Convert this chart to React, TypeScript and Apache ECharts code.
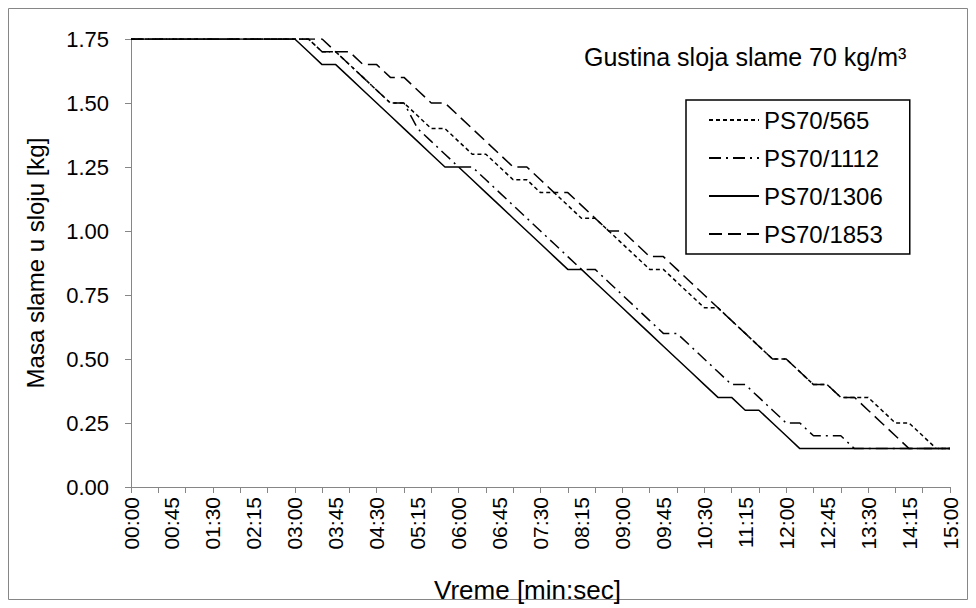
import React, { useEffect, useRef } from "react";
import * as echarts from "echarts";

const FONT = "'Liberation Sans', Arial, sans-serif";

// categories: every 15 s from 00:00 to 15:00
const timeLabels: string[] = [];
for (let s = 0; s <= 900; s += 15) {
  const m = Math.floor(s / 60);
  const sec = s % 60;
  timeLabels.push(`${String(m).padStart(2, "0")}:${String(sec).padStart(2, "0")}`);
}

const seriesNames = ["PS70/565", "PS70/1112", "PS70/1306", "PS70/1853"];

const ps565 = [
  1.75, 1.75, 1.75, 1.75, 1.75, 1.75, 1.75, 1.75, 1.75, 1.75, 1.75, 1.75, 1.75, 1.75,
  1.70, 1.70, 1.65, 1.60, 1.55, 1.50, 1.50, 1.45, 1.40, 1.40, 1.35, 1.30, 1.30, 1.25,
  1.20, 1.20, 1.15, 1.15, 1.10, 1.05, 1.05, 1.00, 0.95, 0.90, 0.85, 0.85, 0.80, 0.75,
  0.70, 0.70, 0.65, 0.60, 0.55, 0.50, 0.50, 0.45, 0.40, 0.40, 0.35, 0.35, 0.35, 0.30,
  0.25, 0.25, 0.20, 0.15, 0.15,
];

const ps1112 = [
  1.75, 1.75, 1.75, 1.75, 1.75, 1.75, 1.75, 1.75, 1.75, 1.75, 1.75, 1.75, 1.75, 1.75,
  1.70, 1.70, 1.65, 1.60, 1.55, 1.50, 1.50, 1.40, 1.35, 1.30, 1.25, 1.25, 1.20, 1.15,
  1.10, 1.05, 1.00, 0.95, 0.90, 0.85, 0.85, 0.80, 0.75, 0.70, 0.65, 0.60, 0.60, 0.55,
  0.50, 0.45, 0.40, 0.40, 0.35, 0.30, 0.25, 0.25, 0.20, 0.20, 0.20, 0.15, 0.15, 0.15,
  0.15, 0.15, 0.15, 0.15, 0.15,
];

const ps1306 = [
  1.75, 1.75, 1.75, 1.75, 1.75, 1.75, 1.75, 1.75, 1.75, 1.75, 1.75, 1.75, 1.75,
  1.70, 1.65, 1.65, 1.60, 1.55, 1.50, 1.45, 1.40, 1.35, 1.30, 1.25, 1.25, 1.20, 1.15,
  1.10, 1.05, 1.00, 0.95, 0.90, 0.85, 0.85, 0.80, 0.75, 0.70, 0.65, 0.60, 0.55, 0.50,
  0.45, 0.40, 0.35, 0.35, 0.30, 0.30, 0.25, 0.20, 0.15, 0.15, 0.15, 0.15, 0.15, 0.15,
  0.15, 0.15, 0.15, 0.15, 0.15, 0.15,
];

const ps1853 = [
  1.75, 1.75, 1.75, 1.75, 1.75, 1.75, 1.75, 1.75, 1.75, 1.75, 1.75, 1.75, 1.75, 1.75, 1.75,
  1.70, 1.70, 1.65, 1.65, 1.60, 1.60, 1.55, 1.50, 1.50, 1.45, 1.40, 1.35, 1.30, 1.25,
  1.25, 1.20, 1.15, 1.15, 1.10, 1.05, 1.00, 1.00, 0.95, 0.90, 0.90, 0.85, 0.80, 0.75,
  0.70, 0.65, 0.60, 0.55, 0.50, 0.50, 0.45, 0.40, 0.40, 0.35, 0.35, 0.30, 0.25, 0.20,
  0.15, 0.15, 0.15, 0.15,
];

const seriesData = [ps565, ps1112, ps1306, ps1853];
const dashTypes: any[] = [[4, 3], [12, 5, 2, 5], "solid", [13, 6]];

const yTicks = { min: 0, max: 1.75, interval: 0.25 };

export default function App() {
  const ref = useRef<HTMLDivElement>(null);
  useEffect(() => {
    if (!ref.current) return;
    const chart = echarts.init(ref.current, undefined, { renderer: "svg" });
    const option: any = {
      animation: false,
      backgroundColor: "#ffffff",
      textStyle: { fontFamily: FONT },
      title: {
        text: "Gustina sloja slame 70 kg/m³",
        left: 584,
        top: 44,
        padding: 0,
        textStyle: { fontSize: 25, fontWeight: "normal", color: "#000", fontFamily: FONT },
      },
      legend: {
        orient: "vertical",
        left: 686,
        top: 100,
        padding: [8, 27, 8, 22],
        itemWidth: 50,
        itemHeight: 14,
        itemGap: 14,
        borderColor: "#000",
        borderWidth: 1.5,
        data: seriesNames,
        itemStyle: { opacity: 0, borderWidth: 0 },
        textStyle: { fontSize: 24, color: "#000", fontFamily: FONT },
      },
      grid: {
        left: 131,
        right: 26,
        top: 39,
        bottom: 121,
        containLabel: false,
        outerBoundsMode: "none",
      },
      xAxis: {
        type: "category",
        data: timeLabels,
        boundaryGap: false,
        name: "Vreme [min:sec]",
        nameLocation: "middle",
        nameGap: 90,
        nameTextStyle: { fontSize: 26, color: "#000", fontFamily: FONT, padding: [0, 26, 0, 0] },
        axisLine: { lineStyle: { color: "#868686", width: 1 } },
        axisTick: { interval: 1, length: 6, lineStyle: { color: "#868686" } },
        axisLabel: { interval: 2, rotate: 90, fontSize: 21, color: "#000", margin: 10, fontFamily: FONT },
        splitLine: { show: false },
      },
      yAxis: {
        type: "value",
        min: yTicks.min,
        max: yTicks.max,
        interval: yTicks.interval,
        name: "Masa slame u sloju [kg]",
        nameLocation: "middle",
        nameGap: 84,
        nameRotate: 90,
        nameTextStyle: { fontSize: 24, color: "#000", fontFamily: FONT },
        axisLine: { show: true, lineStyle: { color: "#868686", width: 1 } },
        axisTick: { show: true, length: 6, lineStyle: { color: "#868686" } },
        axisLabel: {
          fontSize: 22,
          color: "#000",
          margin: 22,
          fontFamily: FONT,
          formatter: (v: number) => v.toFixed(2),
        },
        splitLine: { show: false },
      },
      graphic: [
        {
          type: "rect",
          silent: true,
          z: -10,
          shape: { x: 8.5, y: 8.5, width: 959, height: 591 },
          style: { fill: "none", stroke: "#868686", lineWidth: 1 },
        },
      ],
      series: seriesNames.map((name, i) => ({
        name,
        type: "line",
        data: seriesData[i],
        symbol: "none",
        showSymbol: false,
        lineStyle: { color: "#000", width: 1.5, type: dashTypes[i] },
        itemStyle: { color: "#000" },
      })),
    };
    chart.setOption(option);
    return () => chart.dispose();
  }, []);
  return (
    <div
      ref={ref}
      style={{ position: "fixed", left: 0, top: 0, width: 976, height: 608, background: "#fff" }}
    />
  );
}
